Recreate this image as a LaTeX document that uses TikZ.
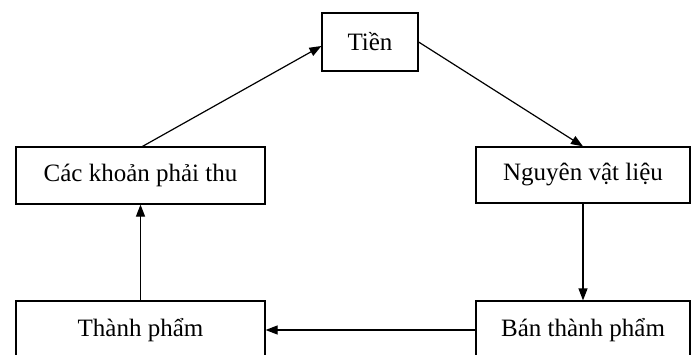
\documentclass[tikz,border=0pt]{standalone}
\usepackage{fontspec}
\setmainfont{Liberation Serif}
\usetikzlibrary{arrows.meta,positioning}

\tikzset{
  stage/.style={rectangle,draw=black,line width=1.2pt,fill=white,
    font=\fontsize{25}{30}\selectfont},
  flow/.style={line width=1.2pt,-{Triangle[length=12pt,width=9pt]}}
}

\begin{document}
\begin{tikzpicture}[x=1pt,y=-1pt]
  \useasboundingbox[fill=white] (0,0) rectangle (692,355);
  % main stages
  \node[stage,minimum width=96pt,minimum height=58pt] (tien) at (370,42) {Tiền};
  \node[stage,minimum width=249pt,minimum height=57pt] (phaithu) at (140.5,175.5) {Các khoản phải thu};
  \node[stage,minimum width=214pt,minimum height=56pt] (nvl) at (583,175) {Nguyên vật liệu};
  \node[stage,minimum width=249pt,minimum height=58pt] (thanhpham) at (140.5,330) {Thành phẩm};
  \node[stage,minimum width=214pt,minimum height=58pt] (banthanhpham) at (583,330) {Bán thành phẩm};

  % cycle
  \draw[flow] ([xshift=2pt]phaithu.north) -- ([yshift=-4pt]tien.west);
  \draw[flow] (tien.east) -- (nvl.north);
  \draw[flow] (nvl.south) -- (banthanhpham.north);
  \draw[flow] (banthanhpham.west) -- (thanhpham.east);
  \draw[flow] (thanhpham.north) -- (phaithu.south);
\end{tikzpicture}
\end{document}
